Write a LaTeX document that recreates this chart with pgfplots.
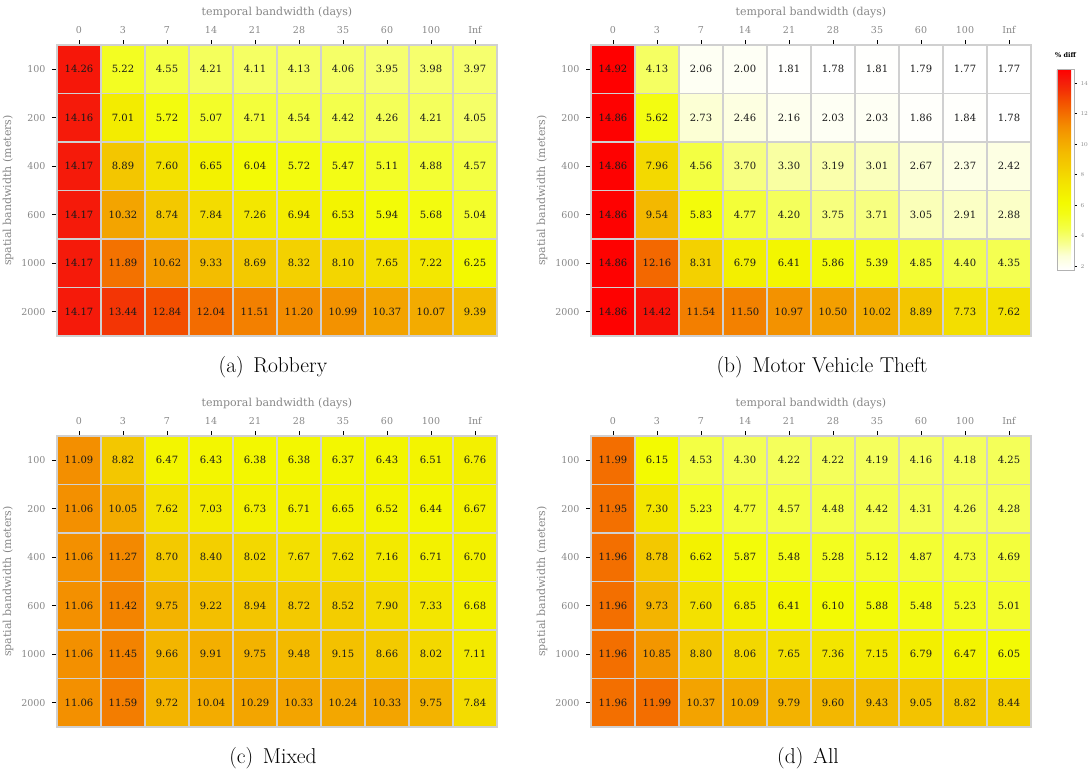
\documentclass[border=0pt]{standalone}
\usepackage{pgfplots}
\pgfplotsset{compat=1.18}
\usepackage{pgfplotstable}
\usepackage{fontspec}
\newfontfamily\dvs{DejaVu Serif}
\definecolor{lblgray}{RGB}{135,135,135}
\definecolor{gridgray}{RGB}{208,208,208}

\pgfplotsset{
  colormap={hm}{
    rgb255(1.77cm)=(255,255,255)
    rgb255(2.7cm)=(252,255,215)
    rgb255(3.5cm)=(248,255,145)
    rgb255(4.5cm)=(243,255,70)
    rgb255(5.5cm)=(243,252,20)
    rgb255(6.2cm)=(243,250,0)
    rgb255(7.6cm)=(243,225,0)
    rgb255(8.5cm)=(243,205,0)
    rgb255(9.4cm)=(243,188,0)
    rgb255(10.3cm)=(243,165,0)
    rgb255(11.2cm)=(243,140,0)
    rgb255(12.0cm)=(243,110,0)
    rgb255(12.8cm)=(243,80,0)
    rgb255(13.5cm)=(243,50,5)
    rgb255(14.2cm)=(245,25,10)
    rgb255(14.92cm)=(255,0,0)
  },
  hmstyle/.style={
    scale only axis, width=440pt, height=291pt,
    anchor=south west,
    xmin=-0.5, xmax=9.5, ymin=-0.5, ymax=5.5, y dir=reverse,
    xtick={0,...,9}, xticklabels={0,3,7,14,21,28,35,60,100,Inf},
    ytick={0,...,5}, yticklabels={100,200,400,600,1000,2000},
    minor xtick={0.5,1.5,...,8.5}, minor ytick={0.5,1.5,...,4.5},
    xminorgrids, yminorgrids,
    minor grid style={draw=gridgray, line width=1.2pt},
    minor tick length=0pt,
    major tick length=5pt, tick align=outside,
    xtick pos=upper, xticklabel pos=upper, ytick pos=left,
    tick style={black, line width=0.8pt},
    axis line style={gridgray, line width=1.2pt},
    ticklabel style={font=\dvs\fontsize{9.5}{10}\selectfont, text=lblgray},
    xticklabel style={yshift=3pt},
    yticklabel style={xshift=-3pt},
    xlabel={temporal bandwidth (days)}, ylabel={spatial bandwidth (meters)},
    label style={font=\dvs\fontsize{11}{12}\selectfont, text=lblgray},
    xlabel style={at={(axis description cs:0.5,1.110)}, anchor=center},
    ylabel style={at={(axis description cs:-0.111,0.5)}, anchor=center},
    axis on top,
    colormap name=hm, point meta min=1.77, point meta max=14.92,
  },
  cellplot/.style={matrix plot*, mesh/cols=10, mesh/rows=6, point meta=explicit},
  celltext/.style={only marks, mark=none, point meta=explicit symbolic,
    nodes near coords, nodes near coords align={center},
    every node near coord/.append style={font=\dvs\fontsize{10}{11}\selectfont, text=black!90, anchor=center}},
}

\pgfplotstableread[row sep=\\]{
x y v\\
0 0 14.26\\ 1 0 5.22\\ 2 0 4.55\\ 3 0 4.21\\ 4 0 4.11\\ 5 0 4.13\\ 6 0 4.06\\ 7 0 3.95\\ 8 0 3.98\\ 9 0 3.97\\
0 1 14.16\\ 1 1 7.01\\ 2 1 5.72\\ 3 1 5.07\\ 4 1 4.71\\ 5 1 4.54\\ 6 1 4.42\\ 7 1 4.26\\ 8 1 4.21\\ 9 1 4.05\\
0 2 14.17\\ 1 2 8.89\\ 2 2 7.60\\ 3 2 6.65\\ 4 2 6.04\\ 5 2 5.72\\ 6 2 5.47\\ 7 2 5.11\\ 8 2 4.88\\ 9 2 4.57\\
0 3 14.17\\ 1 3 10.32\\ 2 3 8.74\\ 3 3 7.84\\ 4 3 7.26\\ 5 3 6.94\\ 6 3 6.53\\ 7 3 5.94\\ 8 3 5.68\\ 9 3 5.04\\
0 4 14.17\\ 1 4 11.89\\ 2 4 10.62\\ 3 4 9.33\\ 4 4 8.69\\ 5 4 8.32\\ 6 4 8.10\\ 7 4 7.65\\ 8 4 7.22\\ 9 4 6.25\\
0 5 14.17\\ 1 5 13.44\\ 2 5 12.84\\ 3 5 12.04\\ 4 5 11.51\\ 5 5 11.20\\ 6 5 10.99\\ 7 5 10.37\\ 8 5 10.07\\ 9 5 9.39\\
}\dA

\pgfplotstableread[row sep=\\]{
x y v\\
0 0 14.92\\ 1 0 4.13\\ 2 0 2.06\\ 3 0 2.00\\ 4 0 1.81\\ 5 0 1.78\\ 6 0 1.81\\ 7 0 1.79\\ 8 0 1.77\\ 9 0 1.77\\
0 1 14.86\\ 1 1 5.62\\ 2 1 2.73\\ 3 1 2.46\\ 4 1 2.16\\ 5 1 2.03\\ 6 1 2.03\\ 7 1 1.86\\ 8 1 1.84\\ 9 1 1.78\\
0 2 14.86\\ 1 2 7.96\\ 2 2 4.56\\ 3 2 3.70\\ 4 2 3.30\\ 5 2 3.19\\ 6 2 3.01\\ 7 2 2.67\\ 8 2 2.37\\ 9 2 2.42\\
0 3 14.86\\ 1 3 9.54\\ 2 3 5.83\\ 3 3 4.77\\ 4 3 4.20\\ 5 3 3.75\\ 6 3 3.71\\ 7 3 3.05\\ 8 3 2.91\\ 9 3 2.88\\
0 4 14.86\\ 1 4 12.16\\ 2 4 8.31\\ 3 4 6.79\\ 4 4 6.41\\ 5 4 5.86\\ 6 4 5.39\\ 7 4 4.85\\ 8 4 4.40\\ 9 4 4.35\\
0 5 14.86\\ 1 5 14.42\\ 2 5 11.54\\ 3 5 11.50\\ 4 5 10.97\\ 5 5 10.50\\ 6 5 10.02\\ 7 5 8.89\\ 8 5 7.73\\ 9 5 7.62\\
}\dB

\pgfplotstableread[row sep=\\]{
x y v\\
0 0 11.09\\ 1 0 8.82\\ 2 0 6.47\\ 3 0 6.43\\ 4 0 6.38\\ 5 0 6.38\\ 6 0 6.37\\ 7 0 6.43\\ 8 0 6.51\\ 9 0 6.76\\
0 1 11.06\\ 1 1 10.05\\ 2 1 7.62\\ 3 1 7.03\\ 4 1 6.73\\ 5 1 6.71\\ 6 1 6.65\\ 7 1 6.52\\ 8 1 6.44\\ 9 1 6.67\\
0 2 11.06\\ 1 2 11.27\\ 2 2 8.70\\ 3 2 8.40\\ 4 2 8.02\\ 5 2 7.67\\ 6 2 7.62\\ 7 2 7.16\\ 8 2 6.71\\ 9 2 6.70\\
0 3 11.06\\ 1 3 11.42\\ 2 3 9.75\\ 3 3 9.22\\ 4 3 8.94\\ 5 3 8.72\\ 6 3 8.52\\ 7 3 7.90\\ 8 3 7.33\\ 9 3 6.68\\
0 4 11.06\\ 1 4 11.45\\ 2 4 9.66\\ 3 4 9.91\\ 4 4 9.75\\ 5 4 9.48\\ 6 4 9.15\\ 7 4 8.66\\ 8 4 8.02\\ 9 4 7.11\\
0 5 11.06\\ 1 5 11.59\\ 2 5 9.72\\ 3 5 10.04\\ 4 5 10.29\\ 5 5 10.33\\ 6 5 10.24\\ 7 5 10.33\\ 8 5 9.75\\ 9 5 7.84\\
}\dC

\pgfplotstableread[row sep=\\]{
x y v\\
0 0 11.99\\ 1 0 6.15\\ 2 0 4.53\\ 3 0 4.30\\ 4 0 4.22\\ 5 0 4.22\\ 6 0 4.19\\ 7 0 4.16\\ 8 0 4.18\\ 9 0 4.25\\
0 1 11.95\\ 1 1 7.30\\ 2 1 5.23\\ 3 1 4.77\\ 4 1 4.57\\ 5 1 4.48\\ 6 1 4.42\\ 7 1 4.31\\ 8 1 4.26\\ 9 1 4.28\\
0 2 11.96\\ 1 2 8.78\\ 2 2 6.62\\ 3 2 5.87\\ 4 2 5.48\\ 5 2 5.28\\ 6 2 5.12\\ 7 2 4.87\\ 8 2 4.73\\ 9 2 4.69\\
0 3 11.96\\ 1 3 9.73\\ 2 3 7.60\\ 3 3 6.85\\ 4 3 6.41\\ 5 3 6.10\\ 6 3 5.88\\ 7 3 5.48\\ 8 3 5.23\\ 9 3 5.01\\
0 4 11.96\\ 1 4 10.85\\ 2 4 8.80\\ 3 4 8.06\\ 4 4 7.65\\ 5 4 7.36\\ 6 4 7.15\\ 7 4 6.79\\ 8 4 6.47\\ 9 4 6.05\\
0 5 11.96\\ 1 5 11.99\\ 2 5 10.37\\ 3 5 10.09\\ 4 5 9.79\\ 5 5 9.60\\ 6 5 9.43\\ 7 5 9.05\\ 8 5 8.82\\ 9 5 8.44\\
}\dD

\begin{document}
\begin{tikzpicture}
\path[use as bounding box] (0,0) rectangle (1090pt,769pt);

\begin{axis}[hmstyle, at={(57pt,433pt)}]
\addplot[cellplot] table[x=x,y=y,meta=v]{\dA};
\addplot[celltext] table[x=x,y=y,meta=v]{\dA};
\end{axis}

\begin{axis}[hmstyle, at={(591pt,433pt)},
  colorbar,
  colorbar style={
    at={(1.059,0.9175)}, anchor=north west,
    scale only axis, width=17pt, height=201pt,
    ytick={2,4,...,14}, xtick=\empty,
    ytick pos=right, yticklabel pos=right,
    tick align=outside, major tick length=3pt,
    tick style={black, line width=0.6pt},
    yticklabel style={font=\dvs\fontsize{6.5}{7}\selectfont, text=lblgray},
    axis line style={draw=black!30, line width=0.6pt},
    title={\% diff},
    title style={font=\dvs\bfseries\fontsize{6.5}{7}\selectfont, at={(0.5,1)}, anchor=south, yshift=2pt},
  }]
\addplot[cellplot] table[x=x,y=y,meta=v]{\dB};
\addplot[celltext] table[x=x,y=y,meta=v]{\dB};
\end{axis}

\begin{axis}[hmstyle, at={(57pt,42pt)}]
\addplot[cellplot] table[x=x,y=y,meta=v]{\dC};
\addplot[celltext] table[x=x,y=y,meta=v]{\dC};
\end{axis}

\begin{axis}[hmstyle, at={(591pt,42pt)}]
\addplot[cellplot] table[x=x,y=y,meta=v]{\dD};
\addplot[celltext] table[x=x,y=y,meta=v]{\dD};
\end{axis}

\node[anchor=base, font=\fontsize{21.5}{26}\selectfont] at (273pt,396pt) {(a)\hspace{0.45em}Robbery};
\node[anchor=base, font=\fontsize{21.5}{26}\selectfont] at (822pt,396pt) {(b)\hspace{0.45em}Motor Vehicle Theft};
\node[anchor=base, font=\fontsize{21.5}{26}\selectfont] at (273pt,6pt) {(c)\hspace{0.45em}Mixed};
\node[anchor=base, font=\fontsize{21.5}{26}\selectfont] at (808pt,6pt) {(d)\hspace{0.45em}All};
\end{tikzpicture}
\end{document}
